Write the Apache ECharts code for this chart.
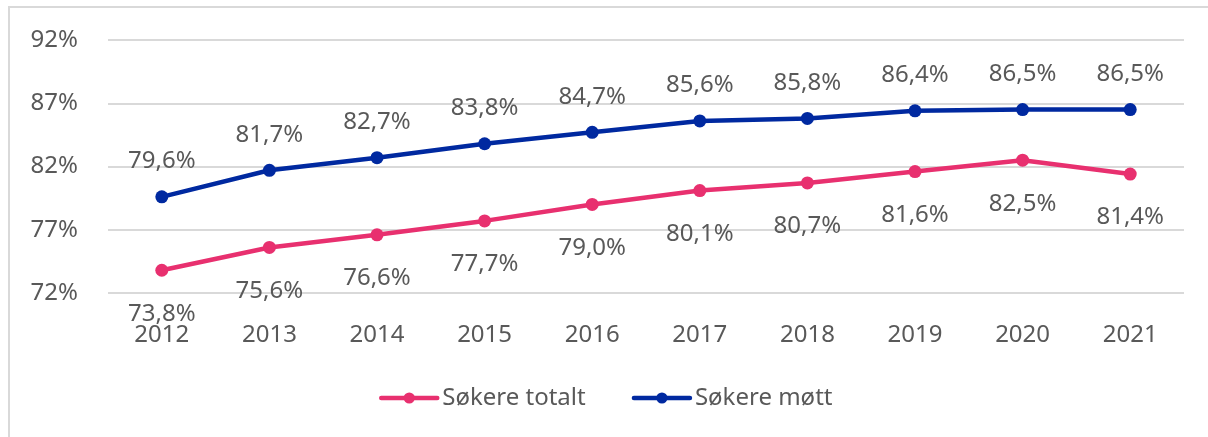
<!DOCTYPE html>
<html>
<head>
<meta charset="utf-8">
<script src="https://cdn.jsdelivr.net/npm/echarts@6/dist/echarts.min.js"></script>
<style>
html, body { margin: 0; padding: 0; background: #fff; }
#frame {
	position: absolute; left: 8px; top: 6px; width: 1220px; height: 450px;
	border: 2px solid #d9d9d9; box-sizing: border-box;
}
#chart { position: absolute; left: 0; top: 0; width: 1208px; height: 437px; }
</style>
</head>
<body>
<div id="frame"></div>
<div id="chart"></div>
<script>
const years = ['2012', '2013', '2014', '2015', '2016', '2017', '2018', '2019', '2020', '2021']
const totalt = [73.8, 75.6, 76.6, 77.7, 79.0, 80.1, 80.7, 81.6, 82.5, 81.4]
const mott = [79.6, 81.7, 82.7, 83.8, 84.7, 85.6, 85.8, 86.4, 86.5, 86.5]

const font = 'Noto Sans'
const fontSize = 24
const textColor = '#595959'

function pct(v) {
	return v.toFixed(1).replace('.', ',') + '%'
}

const chart = echarts.init(document.getElementById('chart'))
chart.setOption({
	animation: false,
	textStyle: { fontFamily: font },
	grid: { left: 108, right: 24, top: 40, height: 253 },
	legend: {
		top: 381,
		left: 374,
		itemWidth: 56,
		itemHeight: 14,
		itemGap: 46,
		lineStyle: { width: 4.5, cap: 'round' },
		textStyle: { fontFamily: font, fontSize: fontSize, color: textColor },
		data: ['Søkere totalt', 'Søkere møtt']
	},
	xAxis: {
		type: 'category',
		data: years,
		boundaryGap: true,
		axisLine: { show: false },
		axisTick: { show: false },
		axisLabel: { fontSize: fontSize, color: textColor, margin: 30, fontFamily: font }
	},
	yAxis: {
		type: 'value',
		min: 72,
		max: 92,
		interval: 5,
		axisLine: { show: false },
		axisTick: { show: false },
		splitLine: { lineStyle: { color: '#d9d9d9', width: 2 } },
		axisLabel: {
			fontSize: fontSize, color: textColor, margin: 30, fontFamily: font,
			formatter: v => v + '%'
		}
	},
	series: [
		{
			name: 'Søkere totalt',
			type: 'line',
			data: totalt,
			symbol: 'circle',
			symbolSize: 13,
			color: '#e8306f',
			lineStyle: { width: 4.5 },
			label: {
				show: true, position: 'bottom', distance: 25,
				fontSize: fontSize, color: textColor, fontFamily: font,
				formatter: p => pct(p.value)
			}
		},
		{
			name: 'Søkere møtt',
			type: 'line',
			data: mott,
			symbol: 'circle',
			symbolSize: 13,
			color: '#0029a0',
			lineStyle: { width: 4.5 },
			label: {
				show: true, position: 'top', distance: 17,
				fontSize: fontSize, color: textColor, fontFamily: font,
				formatter: p => pct(p.value)
			}
		}
	]
})
</script>
</body>
</html>
